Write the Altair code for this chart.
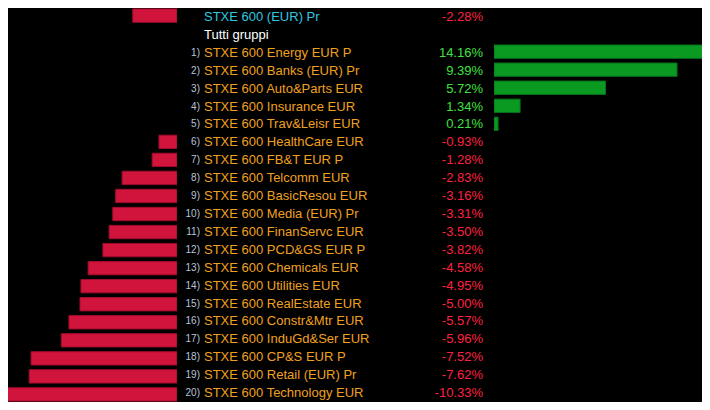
import altair as alt
import pandas as pd

labels = [
    "STXE 600 (EUR) Pr", "Tutti gruppi",
    "STXE 600 Energy EUR P", "STXE 600 Banks (EUR) Pr", "STXE 600 Auto&Parts EUR",
    "STXE 600 Insurance EUR", "STXE 600 Trav&Leisr EUR", "STXE 600 HealthCare EUR",
    "STXE 600 FB&T EUR P", "STXE 600 Telcomm EUR", "STXE 600 BasicResou EUR",
    "STXE 600 Media (EUR) Pr", "STXE 600 FinanServc EUR", "STXE 600 PCD&GS EUR P",
    "STXE 600 Chemicals EUR", "STXE 600 Utilities EUR", "STXE 600 RealEstate EUR",
    "STXE 600 Constr&Mtr EUR", "STXE 600 InduGd&Ser EUR", "STXE 600 CP&S EUR P",
    "STXE 600 Retail (EUR) Pr", "STXE 600 Technology EUR",
]
ranks = ["", ""] + [f"{i})" for i in range(1, 21)]
kinds = ["index", "header"] + ["sector"] * 20
values = [
    -2.28, None,
    14.16, 9.39, 5.72, 1.34, 0.21, -0.93, -1.28, -2.83, -3.16, -3.31,
    -3.50, -3.82, -4.58, -4.95, -5.00, -5.57, -5.96, -7.52, -7.62, -10.33,
]

positions = list(range(len(labels)))
df = pd.DataFrame({
    "pos": positions,
    "label": labels,
    "rank": ranks,
    "kind": kinds,
    "value": values,
})

H = 394
FONT = "Liberation Sans"
yenc = alt.Y("pos:O", axis=None,
             scale=alt.Scale(domain=positions, paddingInner=0.26, paddingOuter=0.05))

base = alt.Chart(df)

left = base.transform_filter("datum.value != null && datum.value < 0").mark_bar(
    color="#d0143c", stroke="#a00c2c", strokeWidth=1, clip=True
).encode(
    x=alt.X("value:Q", axis=None,
            scale=alt.Scale(domain=[-8.71, 0], nice=False, zero=False)),
    x2=alt.datum(0),
    y=yenc,
).properties(width=169, height=H)

right = base.transform_filter("datum.value != null && datum.value > 0").mark_bar(
    color="#0a9a22", stroke="#06701a", strokeWidth=1, clip=True
).encode(
    x=alt.X("value:Q", axis=None,
            scale=alt.Scale(domain=[0, 10.67], nice=False, zero=False)),
    x2=alt.datum(0),
    y=yenc,
).properties(width=208, height=H)

rank_text = base.mark_text(
    align="right", baseline="middle", font=FONT, fontSize=10, color="#b8c4d8"
).encode(x=alt.value(23), y=yenc, text="rank:N")

label_text = base.mark_text(
    align="left", baseline="middle", font=FONT, fontSize=13
).encode(
    x=alt.value(27), y=yenc, text="label:N",
    color=alt.Color("kind:N", legend=None,
                    scale=alt.Scale(domain=["index", "header", "sector"],
                                    range=["#30c8e0", "#ffffff", "#f0a020"])),
)

value_text = base.transform_filter("datum.value != null").transform_calculate(
    txt="(datum.value < 0 ? '-' : '') + format(abs(datum.value), '.2f') + '%'"
).mark_text(
    align="right", baseline="middle", font=FONT, fontSize=13
).encode(
    x=alt.value(306), y=yenc, text="txt:N",
    color=alt.condition("datum.value > 0", alt.value("#40e040"), alt.value("#ff2040")),
)

middle = alt.layer(rank_text, label_text, value_text).properties(width=317, height=H)

chart = alt.hconcat(left, middle, right, spacing=0).properties(
    padding=0, background="#000000"
).configure_view(stroke=None).configure_concat(spacing=0)

chart.save("out.html", embed_options={"renderer": "svg", "actions": False})
